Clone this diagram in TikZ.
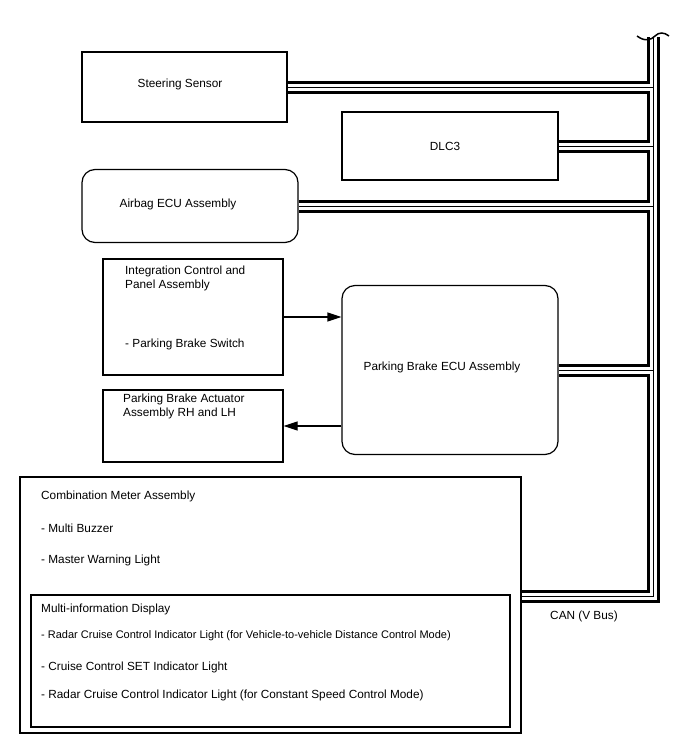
\documentclass[tikz,border=0pt]{standalone}
\usepackage{fontspec}
\setmainfont{Liberation Sans}
\usetikzlibrary{arrows.meta}
\begin{document}
\begin{tikzpicture}[x=1pt,y=-1pt,
  box/.style={draw=black, line width=1.2pt, inner sep=0pt, rectangle},
  rbox/.style={box, rounded corners=13pt},
  lbl/.style={inner sep=0pt, font=\fontsize{11.8}{14}\selectfont, text=black},
  arr/.style={line width=1.2pt, -{Triangle[length=14pt,width=9pt]}}]
\useasboundingbox (0,0) rectangle (688,755);
% boxes
\node[box, minimum width=205pt, minimum height=70pt] (ss) at (184.5,87) {};
\node[box, minimum width=216pt, minimum height=68pt] (dlc) at (450,146) {};
\node[rbox, minimum width=216pt, minimum height=73pt] (ab) at (190,206) {};
\node[box, minimum width=180pt, minimum height=116pt] (icp) at (193,317) {};
\node[rbox, minimum width=216pt, minimum height=169pt] (ecu) at (450,370) {};
\node[box, minimum width=180pt, minimum height=72pt] (act) at (193,426) {};
\node[box, minimum width=501pt, minimum height=256pt] (cm) at (270.5,605) {};
\node[box, minimum width=479pt, minimum height=132pt] (mid) at (270.5,661) {};
% labels
\node[lbl] (tss) at (180,84) {Steering Sensor};
\node[lbl] (tdlc) at (445,146) {DLC3};
\node[lbl] (tab) at (178,204) {Airbag ECU Assembly};
\node[lbl] (tecu) at (442,367) {Parking Brake ECU Assembly};
\node[lbl, anchor=west, align=left] (ticp) at (125,278) {Integration Control and\\Panel Assembly};
\node[lbl, anchor=west] (tpbs) at (125,344) {- Parking Brake Switch};
\node[lbl, anchor=west, align=left] (tact) at (123,406) {Parking Brake Actuator\\Assembly RH and LH};
\node[lbl, anchor=west] (tcm) at (41,496) {Combination Meter Assembly};
\node[lbl, anchor=west] (tmb) at (41,528) {- Multi Buzzer};
\node[lbl, anchor=west] (tmw) at (41,560) {- Master Warning Light};
\node[lbl, anchor=west] (tmid) at (41,609) {Multi-information Display};
\node[lbl, anchor=west, font=\fontsize{11}{13}\selectfont] (tr1) at (41,636) {- Radar Cruise Control Indicator Light (for Vehicle-to-vehicle Distance Control Mode)};
\node[lbl, anchor=west] (tset) at (41,667) {- Cruise Control SET Indicator Light};
\node[lbl, anchor=west] (tr2) at (41,695) {- Radar Cruise Control Indicator Light (for Constant Speed Control Mode)};
\node[lbl] (tcan) at (584,616) {CAN (V Bus)};
% arrows
\draw[arr] (icp.east) -- (icp.east -| ecu.west);
\draw[arr] (act.east -| ecu.west) -- (act.east);
% CAN bus
\coordinate (bt) at (653,37);
\coordinate (bc) at (653,596);
\foreach \w/\c in {13/black, 7/white, 1/black}{
  \draw[line width=\w pt, draw=\c, line join=miter]
    (bt) -- (bc) -- (cm.east |- bc)
    (ss.east) -- (ss.east -| bt)
    (dlc.east) -- (dlc.east -| bt)
    (ab.east) -- (ab.east -| bt)
    (ecu.east) -- (ecu.east -| bt);
}
% break symbol
\coordinate (w1) at (637,36);
\coordinate (w2) at (669,36);
\draw[line width=1.5pt] (w1) .. controls (645,42) and (651,40) .. (655,36)
  .. controls (659,32) and (664,32) .. (w2);
\end{tikzpicture}
\end{document}
